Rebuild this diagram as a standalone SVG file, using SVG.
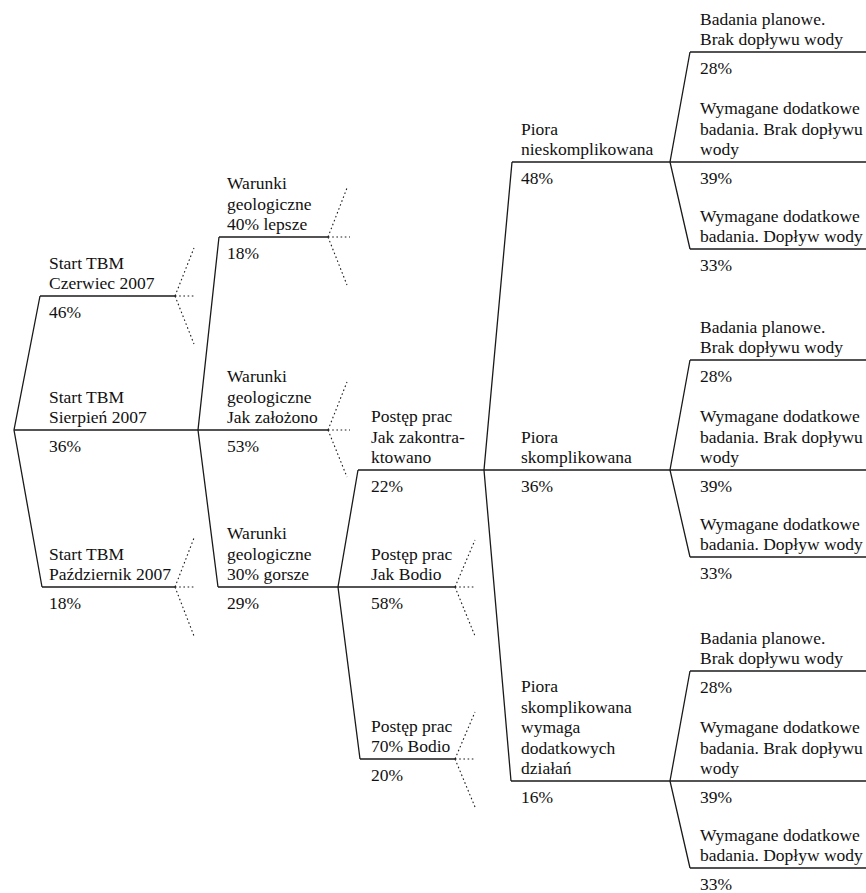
<svg xmlns="http://www.w3.org/2000/svg" width="866" height="893" viewBox="0 0 866 893">
<style>
text{font-family:"Liberation Serif","Times New Roman",serif;font-size:17.5px;fill:#111}
.ln{stroke:#1a1a1a;stroke-width:1.3;fill:none}
.dot{stroke:#1a1a1a;stroke-width:1.1;fill:none;stroke-dasharray:1.6 2.6}
</style>
<rect width="866" height="893" fill="#fff"/>
<g id="connectors">
<path class="ln" d="M40,296 L14,430 L42,587"/>
<path class="ln" d="M219,237 L198,430 L218,587"/>
<path class="ln" d="M358,470 L338,587 L360,759"/>
<path class="ln" d="M512,162 L484,470 L511,781"/>
<path class="ln" d="M690,52 L670,162 L690,249"/>
<path class="ln" d="M690,360 L670,470 L690,557"/>
<path class="ln" d="M690,671 L670,781 L690,868"/>
<path class="dot" d="M175,296 h21 M175,296 L194,248 M175,296 L194,344"/>
<path class="dot" d="M175,587 h21 M175,587 L194,538 M175,587 L194,636"/>
<path class="dot" d="M328,237 h22 M328,237 L347,188 M328,237 L347,285"/>
<path class="dot" d="M328,430 h22 M328,430 L347,382 M328,430 L347,477"/>
<path class="dot" d="M455,587 h21 M455,587 L475,540 M455,587 L475,636"/>
<path class="dot" d="M455,759 h21 M455,759 L475,712 M455,759 L475,807"/>
</g>
<g id="start-czerwiec">
<line class="ln" x1="40" y1="296" x2="175" y2="296"/>
<text x="49" y="268.5">Start TBM</text><text x="49" y="289">Czerwiec 2007</text><text x="49" y="317.5">46%</text>
</g>
<g id="start-sierpien">
<line class="ln" x1="14" y1="430" x2="198" y2="430"/>
<text x="49" y="402.5">Start TBM</text><text x="49" y="423">Sierpień 2007</text><text x="49" y="451.5">36%</text>
</g>
<g id="start-pazdziernik">
<line class="ln" x1="42" y1="587" x2="175" y2="587"/>
<text x="49" y="559.5">Start TBM</text><text x="49" y="580">Październik 2007</text><text x="49" y="608.5">18%</text>
</g>
<g id="warunki-lepsze">
<line class="ln" x1="219" y1="237" x2="328" y2="237"/>
<text x="227" y="189">Warunki</text><text x="227" y="209.5">geologiczne</text><text x="227" y="230">40% lepsze</text><text x="227" y="258.5">18%</text>
</g>
<g id="warunki-zalozono">
<line class="ln" x1="198" y1="430" x2="328" y2="430"/>
<text x="227" y="382">Warunki</text><text x="227" y="402.5">geologiczne</text><text x="227" y="423">Jak założono</text><text x="227" y="451.5">53%</text>
</g>
<g id="warunki-gorsze">
<line class="ln" x1="218" y1="587" x2="338" y2="587"/>
<text x="227" y="539">Warunki</text><text x="227" y="559.5">geologiczne</text><text x="227" y="580">30% gorsze</text><text x="227" y="608.5">29%</text>
</g>
<g id="postep-zakontraktowano">
<line class="ln" x1="358" y1="470" x2="484" y2="470"/>
<text x="371" y="422">Postęp prac</text><text x="371" y="442.5">Jak zakontra-</text><text x="371" y="463">ktowano</text><text x="371" y="491.5">22%</text>
</g>
<g id="postep-bodio">
<line class="ln" x1="338" y1="587" x2="455" y2="587"/>
<text x="371" y="559.5">Postęp prac</text><text x="371" y="580">Jak Bodio</text><text x="371" y="608.5">58%</text>
</g>
<g id="postep-70-bodio">
<line class="ln" x1="360" y1="759" x2="455" y2="759"/>
<text x="371" y="731.5">Postęp prac</text><text x="371" y="752">70% Bodio</text><text x="371" y="780.5">20%</text>
</g>
<g id="piora-nieskomplikowana">
<line class="ln" x1="512" y1="162" x2="670" y2="162"/>
<text x="521" y="134.5">Piora</text><text x="521" y="155">nieskomplikowana</text><text x="521" y="183.5">48%</text>
</g>
<g id="piora-skomplikowana">
<line class="ln" x1="484" y1="470" x2="670" y2="470"/>
<text x="521" y="442.5">Piora</text><text x="521" y="463">skomplikowana</text><text x="521" y="491.5">36%</text>
</g>
<g id="piora-dzialan">
<line class="ln" x1="511" y1="781" x2="670" y2="781"/>
<text x="521" y="692">Piora</text><text x="521" y="712.5">skomplikowana</text><text x="521" y="733">wymaga</text><text x="521" y="753.5">dodatkowych</text><text x="521" y="774">działań</text><text x="521" y="802.5">16%</text>
</g>
<g id="a-planowe">
<line class="ln" x1="690" y1="52" x2="866" y2="52"/>
<text x="700" y="24.5">Badania planowe.</text><text x="700" y="45">Brak dopływu wody</text><text x="700" y="73.5">28%</text>
</g>
<g id="a-brak">
<line class="ln" x1="670" y1="162" x2="866" y2="162"/>
<text x="700" y="114">Wymagane dodatkowe</text><text x="700" y="134.5">badania. Brak dopływu</text><text x="700" y="155">wody</text><text x="700" y="183.5">39%</text>
</g>
<g id="a-doplyw">
<line class="ln" x1="690" y1="249" x2="866" y2="249"/>
<text x="700" y="221.5">Wymagane dodatkowe</text><text x="700" y="242">badania. Dopływ wody</text><text x="700" y="270.5">33%</text>
</g>
<g id="b-planowe">
<line class="ln" x1="690" y1="360" x2="866" y2="360"/>
<text x="700" y="332.5">Badania planowe.</text><text x="700" y="353">Brak dopływu wody</text><text x="700" y="381.5">28%</text>
</g>
<g id="b-brak">
<line class="ln" x1="670" y1="470" x2="866" y2="470"/>
<text x="700" y="422">Wymagane dodatkowe</text><text x="700" y="442.5">badania. Brak dopływu</text><text x="700" y="463">wody</text><text x="700" y="491.5">39%</text>
</g>
<g id="b-doplyw">
<line class="ln" x1="690" y1="557" x2="866" y2="557"/>
<text x="700" y="529.5">Wymagane dodatkowe</text><text x="700" y="550">badania. Dopływ wody</text><text x="700" y="578.5">33%</text>
</g>
<g id="c-planowe">
<line class="ln" x1="690" y1="671" x2="866" y2="671"/>
<text x="700" y="643.5">Badania planowe.</text><text x="700" y="664">Brak dopływu wody</text><text x="700" y="692.5">28%</text>
</g>
<g id="c-brak">
<line class="ln" x1="670" y1="781" x2="866" y2="781"/>
<text x="700" y="733">Wymagane dodatkowe</text><text x="700" y="753.5">badania. Brak dopływu</text><text x="700" y="774">wody</text><text x="700" y="802.5">39%</text>
</g>
<g id="c-doplyw">
<line class="ln" x1="690" y1="868" x2="866" y2="868"/>
<text x="700" y="840.5">Wymagane dodatkowe</text><text x="700" y="861">badania. Dopływ wody</text><text x="700" y="889.5">33%</text>
</g>
</svg>
